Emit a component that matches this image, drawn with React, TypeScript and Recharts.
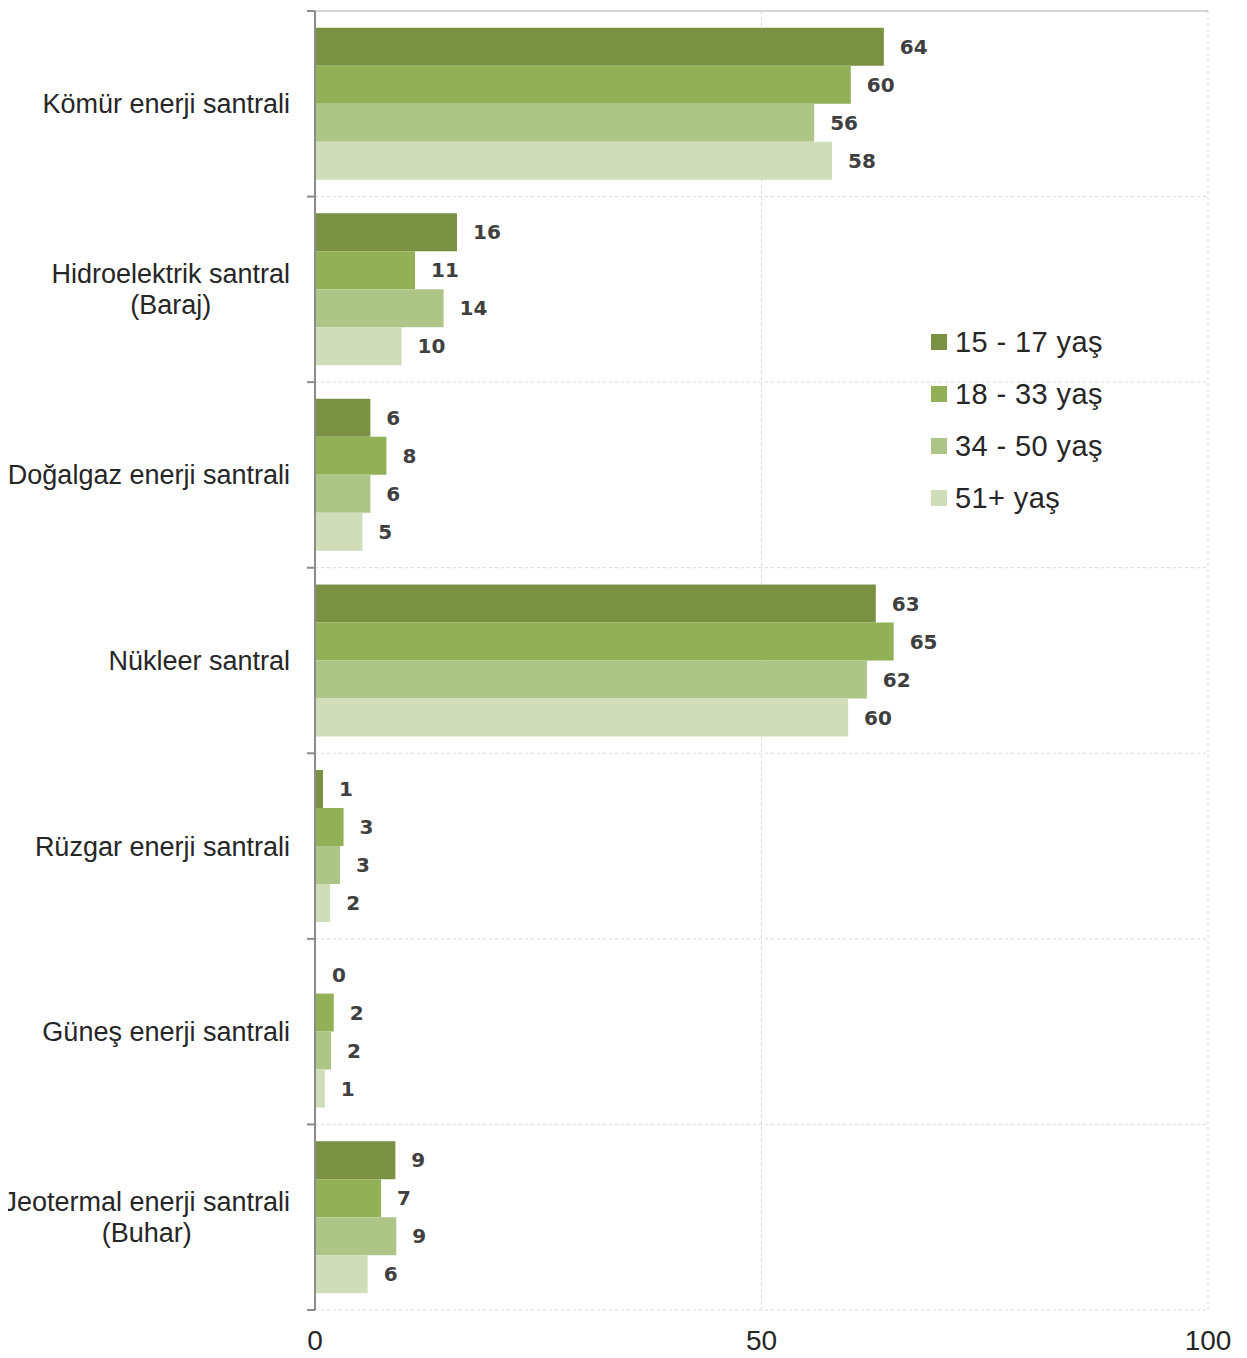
import React from "react";
import {
  BarChart,
  Bar,
  XAxis,
  YAxis,
  CartesianGrid,
  LabelList,
} from "recharts";

const categories = [
  "Kömür enerji santrali",
  "Hidroelektrik santral\n(Baraj)",
  "Doğalgaz enerji santrali",
  "Nükleer santral",
  "Rüzgar enerji santrali",
  "Güneş enerji santrali",
  "Jeotermal enerji santrali\n(Buhar)",
];

const age15to17 = [63.7, 15.9, 6.2, 62.8, 0.9, 0.1, 9.0];
const age18to33 = [60.0, 11.2, 8.0, 64.8, 3.2, 2.1, 7.4];
const age34to50 = [55.9, 14.4, 6.2, 61.8, 2.8, 1.8, 9.1];
const age51plus = [57.9, 9.7, 5.3, 59.7, 1.7, 1.1, 5.9];

const xTicks = [0, 50, 100];

const SERIES = [
  { key: "a", name: "15 - 17 yaş", color: "#7a9144", values: age15to17 },
  { key: "b", name: "18 - 33 yaş", color: "#92b055", values: age18to33 },
  { key: "c", name: "34 - 50 yaş", color: "#adc687", values: age34to50 },
  { key: "d", name: "51+ yaş", color: "#cfddb8", values: age51plus },
];

const data = categories.map((cat, i) => {
  const row: any = { cat };
  SERIES.forEach((s) => (row[s.key] = s.values[i]));
  return row;
});

const W = 1247;
const H = 1358;
const MARGIN = { top: 10, right: 39, bottom: 0, left: 0 };
const Y_WIDTH = 315;
const X_HEIGHT = 48;
const TOP_H = 1;
const PLOT_H = H - MARGIN.top - TOP_H - MARGIN.bottom - X_HEIGHT;
const BAND = PLOT_H / categories.length;
const FONT = "'Liberation Sans', Arial, sans-serif";
const LABEL_FONT = 27;

let ctx: CanvasRenderingContext2D | null = null;
function textWidth(s: string) {
  if (!ctx) ctx = document.createElement("canvas").getContext("2d");
  if (!ctx) return s.length * 12;
  ctx.font = `${LABEL_FONT}px ${FONT}`;
  return ctx.measureText(s).width;
}

const CategoryTick = (props: any) => {
  const { x, y, payload, index } = props;
  const lines = String(payload.value).split("\n");
  const right = x - 25;
  const widest = Math.max(...lines.map(textWidth));
  const lineH = 31;
  const startY = y - ((lines.length - 1) * lineH) / 2;
  const multi = lines.length > 1;
  const tx = multi ? right - widest / 2 : right;
  return (
    <g>
      <line x1={x - 8} x2={x} y1={y - BAND / 2} y2={y - BAND / 2} stroke="#8c8c8c" strokeWidth={2} />
      {index === categories.length - 1 && (
        <line x1={x - 8} x2={x} y1={y + BAND / 2} y2={y + BAND / 2} stroke="#8c8c8c" strokeWidth={2} />
      )}
      <text
        x={tx}
        y={startY}
        textAnchor={multi ? "middle" : "end"}
        fontSize={LABEL_FONT}
        fontFamily={FONT}
        fill="#262626"
      >
        {lines.map((l, i) => (
          <tspan key={i} x={tx} y={startY + i * lineH} dy="0.35em">
            {l}
          </tspan>
        ))}
      </text>
    </g>
  );
};

const EmptyTick = () => <g />;

export default function App() {
  return (
    <div style={{ position: "relative", width: W, height: H, margin: "-8px 0 0 -8px" }}>
      <BarChart
        width={W}
        height={H}
        data={data}
        layout="vertical"
        margin={MARGIN}
        barCategoryGap="9%"
        barGap={0}
      >
        <CartesianGrid
          stroke="#d9d9d9"
          strokeDasharray="3 3"
          horizontalCoordinatesGenerator={({ offset }: any) =>
            categories
              .map((_, i) => offset.top + i * (offset.height / categories.length))
              .concat(offset.top + offset.height)
          }
        />
        <XAxis
          type="number"
          domain={[0, 100]}
          ticks={xTicks}
          axisLine={false}
          tickLine={false}
          height={X_HEIGHT}
          tickMargin={14}
          tick={{ fontSize: 28, fill: "#262626", fontFamily: FONT }}
        />
        <XAxis
          xAxisId="top"
          orientation="top"
          type="number"
          domain={[0, 100]}
          ticks={xTicks}
          height={TOP_H}
          axisLine={{ stroke: "#d4d4d4", strokeWidth: 2 }}
          tickLine={{ stroke: "#d4d4d4", strokeWidth: 2 }}
          tickSize={8}
          tick={EmptyTick}
        />
        <YAxis
          type="category"
          dataKey="cat"
          width={Y_WIDTH}
          axisLine={{ stroke: "#8c8c8c", strokeWidth: 2 }}
          tickLine={false}
          tickSize={0}
          tickMargin={0}
          interval={0}
          tick={CategoryTick}
        />
        {SERIES.map((s) => (
          <Bar key={s.key} dataKey={s.key} name={s.name} fill={s.color} isAnimationActive={false}>
            <LabelList
              dataKey={s.key}
              position="right"
              offset={16}
              formatter={(v: any) => Math.round(Number(v))}
              fill="#404040"
              fontSize={20}
              fontWeight="bold"
              fontFamily="'DejaVu Sans', sans-serif"
            />
          </Bar>
        ))}
      </BarChart>
      <div style={{ position: "absolute", left: 931, top: 316, fontFamily: FONT }}>
        {SERIES.map((s) => (
          <div key={s.key} style={{ display: "flex", alignItems: "center", height: 52 }}>
            <span style={{ width: 16, height: 16, background: s.color, marginRight: 8 }} />
            <span style={{ fontSize: 29, color: "#262626", letterSpacing: 0.4 }}>{s.name}</span>
          </div>
        ))}
      </div>
    </div>
  );
}
